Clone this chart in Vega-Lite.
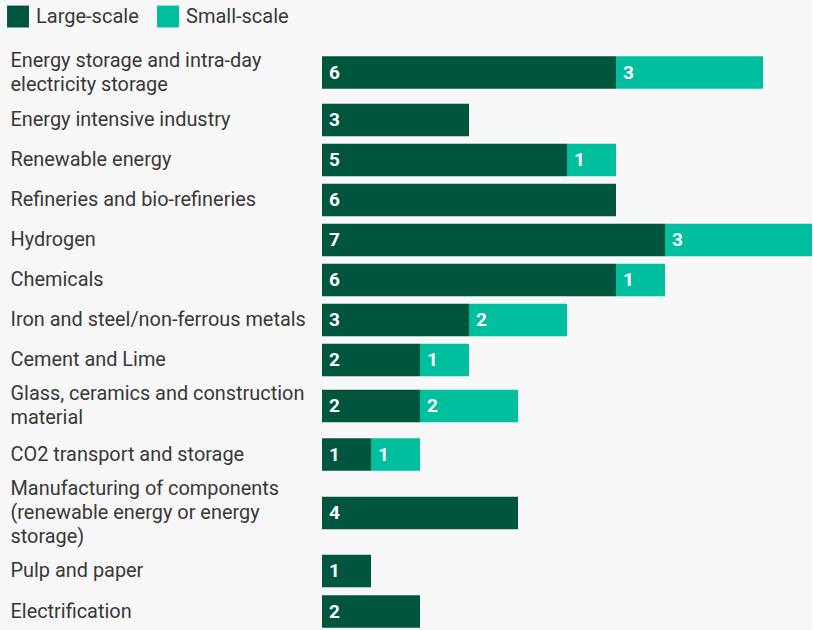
{
  "$schema": "https://vega.github.io/schema/vega-lite/v6.json",
  "autosize": {"type": "pad"},
  "padding": {"left": 7, "top": 5, "right": 0, "bottom": 0},
  "background": "#f7f7f7",
  "spacing": 0,
  "config": {
    "view": {"stroke": null},
    "font": "Roboto",
    "axisY": {
      "domain": false, "ticks": false, "labelAlign": "left", "labelPadding": 312,
      "labelFontSize": 19.9, "labelColor": "#383838", "labelLimit": 400,
      "labelLineHeight": 24, "labelBaseline": "middle"
    },
    "legend": {
      "orient": "none", "direction": "horizontal", "legendX": -315, "legendY": -39.5, "padding": 0,
      "symbolType": "square", "symbolSize": 480, "symbolStrokeWidth": 0,
      "labelFontSize": 20, "labelColor": "#383838", "labelOffset": 7, "columnPadding": 18
    }
  },
  "data": {"values": [
    {"sector": "Energy storage and intra-day electricity storage", "type": "Large-scale", "count": 6},
    {"sector": "Energy storage and intra-day electricity storage", "type": "Small-scale", "count": 3},
    {"sector": "Energy intensive industry", "type": "Large-scale", "count": 3},
    {"sector": "Renewable energy", "type": "Large-scale", "count": 5},
    {"sector": "Renewable energy", "type": "Small-scale", "count": 1},
    {"sector": "Refineries and bio-refineries", "type": "Large-scale", "count": 6},
    {"sector": "Hydrogen", "type": "Large-scale", "count": 7},
    {"sector": "Hydrogen", "type": "Small-scale", "count": 3},
    {"sector": "Chemicals", "type": "Large-scale", "count": 6},
    {"sector": "Chemicals", "type": "Small-scale", "count": 1},
    {"sector": "Iron and steel/non-ferrous metals", "type": "Large-scale", "count": 3},
    {"sector": "Iron and steel/non-ferrous metals", "type": "Small-scale", "count": 2},
    {"sector": "Cement and Lime", "type": "Large-scale", "count": 2},
    {"sector": "Cement and Lime", "type": "Small-scale", "count": 1},
    {"sector": "Glass, ceramics and construction material", "type": "Large-scale", "count": 2},
    {"sector": "Glass, ceramics and construction material", "type": "Small-scale", "count": 2},
    {"sector": "CO2 transport and storage", "type": "Large-scale", "count": 1},
    {"sector": "CO2 transport and storage", "type": "Small-scale", "count": 1},
    {"sector": "Manufacturing of components (renewable energy or energy storage)", "type": "Large-scale", "count": 4},
    {"sector": "Pulp and paper", "type": "Large-scale", "count": 1},
    {"sector": "Electrification", "type": "Large-scale", "count": 2}
  ]},
  "transform": [
    {"stack": "count", "groupby": ["sector"], "sort": [{"field": "type", "order": "ascending"}], "as": ["x0", "x1"]}
  ],
  "vconcat": [
    {
      "width": 490, "height": 55,
      "transform": [{"filter": {"field": "sector", "equal": "Energy storage and intra-day electricity storage"}}],
      "encoding": {"y": {"field": "sector", "type": "nominal", "scale": {"paddingInner": 0, "paddingOuter": 0}, "axis": {"title": null, "labelOffset": -12, "labelExpr": "['Energy storage and intra-day', 'electricity storage']"}}},
      "layer": [
        {"mark": {"type": "bar", "height": 32.5}, "encoding": {"x": {"field": "x0", "type": "quantitative", "scale": {"domain": [0, 10]}, "axis": null}, "x2": {"field": "x1"}, "color": {"field": "type", "type": "nominal", "scale": {"domain": ["Large-scale", "Small-scale"], "range": ["#00553f", "#00bf9f"]}, "legend": {"title": null}}}},
        {"mark": {"type": "text", "align": "left", "baseline": "middle", "dx": 7, "color": "white", "fontSize": 19, "fontWeight": "bold"}, "encoding": {"x": {"field": "x0", "type": "quantitative"}, "text": {"field": "count", "type": "quantitative"}}}
      ]
    },
    {
      "width": 490, "height": 40,
      "transform": [{"filter": {"field": "sector", "equal": "Energy intensive industry"}}],
      "encoding": {"y": {"field": "sector", "type": "nominal", "scale": {"paddingInner": 0, "paddingOuter": 0}, "axis": {"title": null}}},
      "layer": [
        {"mark": {"type": "bar", "height": 32.5}, "encoding": {"x": {"field": "x0", "type": "quantitative", "scale": {"domain": [0, 10]}, "axis": null}, "x2": {"field": "x1"}, "color": {"field": "type", "type": "nominal", "scale": {"domain": ["Large-scale", "Small-scale"], "range": ["#00553f", "#00bf9f"]}, "legend": {"title": null}}}},
        {"mark": {"type": "text", "align": "left", "baseline": "middle", "dx": 7, "color": "white", "fontSize": 19, "fontWeight": "bold"}, "encoding": {"x": {"field": "x0", "type": "quantitative"}, "text": {"field": "count", "type": "quantitative"}}}
      ]
    },
    {
      "width": 490, "height": 40,
      "transform": [{"filter": {"field": "sector", "equal": "Renewable energy"}}],
      "encoding": {"y": {"field": "sector", "type": "nominal", "scale": {"paddingInner": 0, "paddingOuter": 0}, "axis": {"title": null}}},
      "layer": [
        {"mark": {"type": "bar", "height": 32.5}, "encoding": {"x": {"field": "x0", "type": "quantitative", "scale": {"domain": [0, 10]}, "axis": null}, "x2": {"field": "x1"}, "color": {"field": "type", "type": "nominal", "scale": {"domain": ["Large-scale", "Small-scale"], "range": ["#00553f", "#00bf9f"]}, "legend": {"title": null}}}},
        {"mark": {"type": "text", "align": "left", "baseline": "middle", "dx": 7, "color": "white", "fontSize": 19, "fontWeight": "bold"}, "encoding": {"x": {"field": "x0", "type": "quantitative"}, "text": {"field": "count", "type": "quantitative"}}}
      ]
    },
    {
      "width": 490, "height": 40,
      "transform": [{"filter": {"field": "sector", "equal": "Refineries and bio-refineries"}}],
      "encoding": {"y": {"field": "sector", "type": "nominal", "scale": {"paddingInner": 0, "paddingOuter": 0}, "axis": {"title": null}}},
      "layer": [
        {"mark": {"type": "bar", "height": 32.5}, "encoding": {"x": {"field": "x0", "type": "quantitative", "scale": {"domain": [0, 10]}, "axis": null}, "x2": {"field": "x1"}, "color": {"field": "type", "type": "nominal", "scale": {"domain": ["Large-scale", "Small-scale"], "range": ["#00553f", "#00bf9f"]}, "legend": {"title": null}}}},
        {"mark": {"type": "text", "align": "left", "baseline": "middle", "dx": 7, "color": "white", "fontSize": 19, "fontWeight": "bold"}, "encoding": {"x": {"field": "x0", "type": "quantitative"}, "text": {"field": "count", "type": "quantitative"}}}
      ]
    },
    {
      "width": 490, "height": 40,
      "transform": [{"filter": {"field": "sector", "equal": "Hydrogen"}}],
      "encoding": {"y": {"field": "sector", "type": "nominal", "scale": {"paddingInner": 0, "paddingOuter": 0}, "axis": {"title": null}}},
      "layer": [
        {"mark": {"type": "bar", "height": 32.5}, "encoding": {"x": {"field": "x0", "type": "quantitative", "scale": {"domain": [0, 10]}, "axis": null}, "x2": {"field": "x1"}, "color": {"field": "type", "type": "nominal", "scale": {"domain": ["Large-scale", "Small-scale"], "range": ["#00553f", "#00bf9f"]}, "legend": {"title": null}}}},
        {"mark": {"type": "text", "align": "left", "baseline": "middle", "dx": 7, "color": "white", "fontSize": 19, "fontWeight": "bold"}, "encoding": {"x": {"field": "x0", "type": "quantitative"}, "text": {"field": "count", "type": "quantitative"}}}
      ]
    },
    {
      "width": 490, "height": 40,
      "transform": [{"filter": {"field": "sector", "equal": "Chemicals"}}],
      "encoding": {"y": {"field": "sector", "type": "nominal", "scale": {"paddingInner": 0, "paddingOuter": 0}, "axis": {"title": null}}},
      "layer": [
        {"mark": {"type": "bar", "height": 32.5}, "encoding": {"x": {"field": "x0", "type": "quantitative", "scale": {"domain": [0, 10]}, "axis": null}, "x2": {"field": "x1"}, "color": {"field": "type", "type": "nominal", "scale": {"domain": ["Large-scale", "Small-scale"], "range": ["#00553f", "#00bf9f"]}, "legend": {"title": null}}}},
        {"mark": {"type": "text", "align": "left", "baseline": "middle", "dx": 7, "color": "white", "fontSize": 19, "fontWeight": "bold"}, "encoding": {"x": {"field": "x0", "type": "quantitative"}, "text": {"field": "count", "type": "quantitative"}}}
      ]
    },
    {
      "width": 490, "height": 40,
      "transform": [{"filter": {"field": "sector", "equal": "Iron and steel/non-ferrous metals"}}],
      "encoding": {"y": {"field": "sector", "type": "nominal", "scale": {"paddingInner": 0, "paddingOuter": 0}, "axis": {"title": null}}},
      "layer": [
        {"mark": {"type": "bar", "height": 32.5}, "encoding": {"x": {"field": "x0", "type": "quantitative", "scale": {"domain": [0, 10]}, "axis": null}, "x2": {"field": "x1"}, "color": {"field": "type", "type": "nominal", "scale": {"domain": ["Large-scale", "Small-scale"], "range": ["#00553f", "#00bf9f"]}, "legend": {"title": null}}}},
        {"mark": {"type": "text", "align": "left", "baseline": "middle", "dx": 7, "color": "white", "fontSize": 19, "fontWeight": "bold"}, "encoding": {"x": {"field": "x0", "type": "quantitative"}, "text": {"field": "count", "type": "quantitative"}}}
      ]
    },
    {
      "width": 490, "height": 40,
      "transform": [{"filter": {"field": "sector", "equal": "Cement and Lime"}}],
      "encoding": {"y": {"field": "sector", "type": "nominal", "scale": {"paddingInner": 0, "paddingOuter": 0}, "axis": {"title": null}}},
      "layer": [
        {"mark": {"type": "bar", "height": 32.5}, "encoding": {"x": {"field": "x0", "type": "quantitative", "scale": {"domain": [0, 10]}, "axis": null}, "x2": {"field": "x1"}, "color": {"field": "type", "type": "nominal", "scale": {"domain": ["Large-scale", "Small-scale"], "range": ["#00553f", "#00bf9f"]}, "legend": {"title": null}}}},
        {"mark": {"type": "text", "align": "left", "baseline": "middle", "dx": 7, "color": "white", "fontSize": 19, "fontWeight": "bold"}, "encoding": {"x": {"field": "x0", "type": "quantitative"}, "text": {"field": "count", "type": "quantitative"}}}
      ]
    },
    {
      "width": 490, "height": 52,
      "transform": [{"filter": {"field": "sector", "equal": "Glass, ceramics and construction material"}}],
      "encoding": {"y": {"field": "sector", "type": "nominal", "scale": {"paddingInner": 0, "paddingOuter": 0}, "axis": {"title": null, "labelOffset": -12, "labelExpr": "['Glass, ceramics and construction', 'material']"}}},
      "layer": [
        {"mark": {"type": "bar", "height": 32.5}, "encoding": {"x": {"field": "x0", "type": "quantitative", "scale": {"domain": [0, 10]}, "axis": null}, "x2": {"field": "x1"}, "color": {"field": "type", "type": "nominal", "scale": {"domain": ["Large-scale", "Small-scale"], "range": ["#00553f", "#00bf9f"]}, "legend": {"title": null}}}},
        {"mark": {"type": "text", "align": "left", "baseline": "middle", "dx": 7, "color": "white", "fontSize": 19, "fontWeight": "bold"}, "encoding": {"x": {"field": "x0", "type": "quantitative"}, "text": {"field": "count", "type": "quantitative"}}}
      ]
    },
    {
      "width": 490, "height": 45,
      "transform": [{"filter": {"field": "sector", "equal": "CO2 transport and storage"}}],
      "encoding": {"y": {"field": "sector", "type": "nominal", "scale": {"paddingInner": 0, "paddingOuter": 0}, "axis": {"title": null}}},
      "layer": [
        {"mark": {"type": "bar", "height": 32.5}, "encoding": {"x": {"field": "x0", "type": "quantitative", "scale": {"domain": [0, 10]}, "axis": null}, "x2": {"field": "x1"}, "color": {"field": "type", "type": "nominal", "scale": {"domain": ["Large-scale", "Small-scale"], "range": ["#00553f", "#00bf9f"]}, "legend": {"title": null}}}},
        {"mark": {"type": "text", "align": "left", "baseline": "middle", "dx": 7, "color": "white", "fontSize": 19, "fontWeight": "bold"}, "encoding": {"x": {"field": "x0", "type": "quantitative"}, "text": {"field": "count", "type": "quantitative"}}}
      ]
    },
    {
      "width": 490, "height": 72,
      "transform": [{"filter": {"field": "sector", "equal": "Manufacturing of components (renewable energy or energy storage)"}}],
      "encoding": {"y": {"field": "sector", "type": "nominal", "scale": {"paddingInner": 0, "paddingOuter": 0}, "axis": {"title": null, "labelOffset": -24, "labelExpr": "['Manufacturing of components', '(renewable energy or energy', 'storage)']"}}},
      "layer": [
        {"mark": {"type": "bar", "height": 32.5}, "encoding": {"x": {"field": "x0", "type": "quantitative", "scale": {"domain": [0, 10]}, "axis": null}, "x2": {"field": "x1"}, "color": {"field": "type", "type": "nominal", "scale": {"domain": ["Large-scale", "Small-scale"], "range": ["#00553f", "#00bf9f"]}, "legend": {"title": null}}}},
        {"mark": {"type": "text", "align": "left", "baseline": "middle", "dx": 7, "color": "white", "fontSize": 19, "fontWeight": "bold"}, "encoding": {"x": {"field": "x0", "type": "quantitative"}, "text": {"field": "count", "type": "quantitative"}}}
      ]
    },
    {
      "width": 490, "height": 44,
      "transform": [{"filter": {"field": "sector", "equal": "Pulp and paper"}}],
      "encoding": {"y": {"field": "sector", "type": "nominal", "scale": {"paddingInner": 0, "paddingOuter": 0}, "axis": {"title": null}}},
      "layer": [
        {"mark": {"type": "bar", "height": 32.5}, "encoding": {"x": {"field": "x0", "type": "quantitative", "scale": {"domain": [0, 10]}, "axis": null}, "x2": {"field": "x1"}, "color": {"field": "type", "type": "nominal", "scale": {"domain": ["Large-scale", "Small-scale"], "range": ["#00553f", "#00bf9f"]}, "legend": {"title": null}}}},
        {"mark": {"type": "text", "align": "left", "baseline": "middle", "dx": 7, "color": "white", "fontSize": 19, "fontWeight": "bold"}, "encoding": {"x": {"field": "x0", "type": "quantitative"}, "text": {"field": "count", "type": "quantitative"}}}
      ]
    },
    {
      "width": 490, "height": 37,
      "transform": [{"filter": {"field": "sector", "equal": "Electrification"}}],
      "encoding": {"y": {"field": "sector", "type": "nominal", "scale": {"paddingInner": 0, "paddingOuter": 0}, "axis": {"title": null}}},
      "layer": [
        {"mark": {"type": "bar", "height": 32.5}, "encoding": {"x": {"field": "x0", "type": "quantitative", "scale": {"domain": [0, 10]}, "axis": null}, "x2": {"field": "x1"}, "color": {"field": "type", "type": "nominal", "scale": {"domain": ["Large-scale", "Small-scale"], "range": ["#00553f", "#00bf9f"]}, "legend": {"title": null}}}},
        {"mark": {"type": "text", "align": "left", "baseline": "middle", "dx": 7, "color": "white", "fontSize": 19, "fontWeight": "bold"}, "encoding": {"x": {"field": "x0", "type": "quantitative"}, "text": {"field": "count", "type": "quantitative"}}}
      ]
    }
  ]
}
